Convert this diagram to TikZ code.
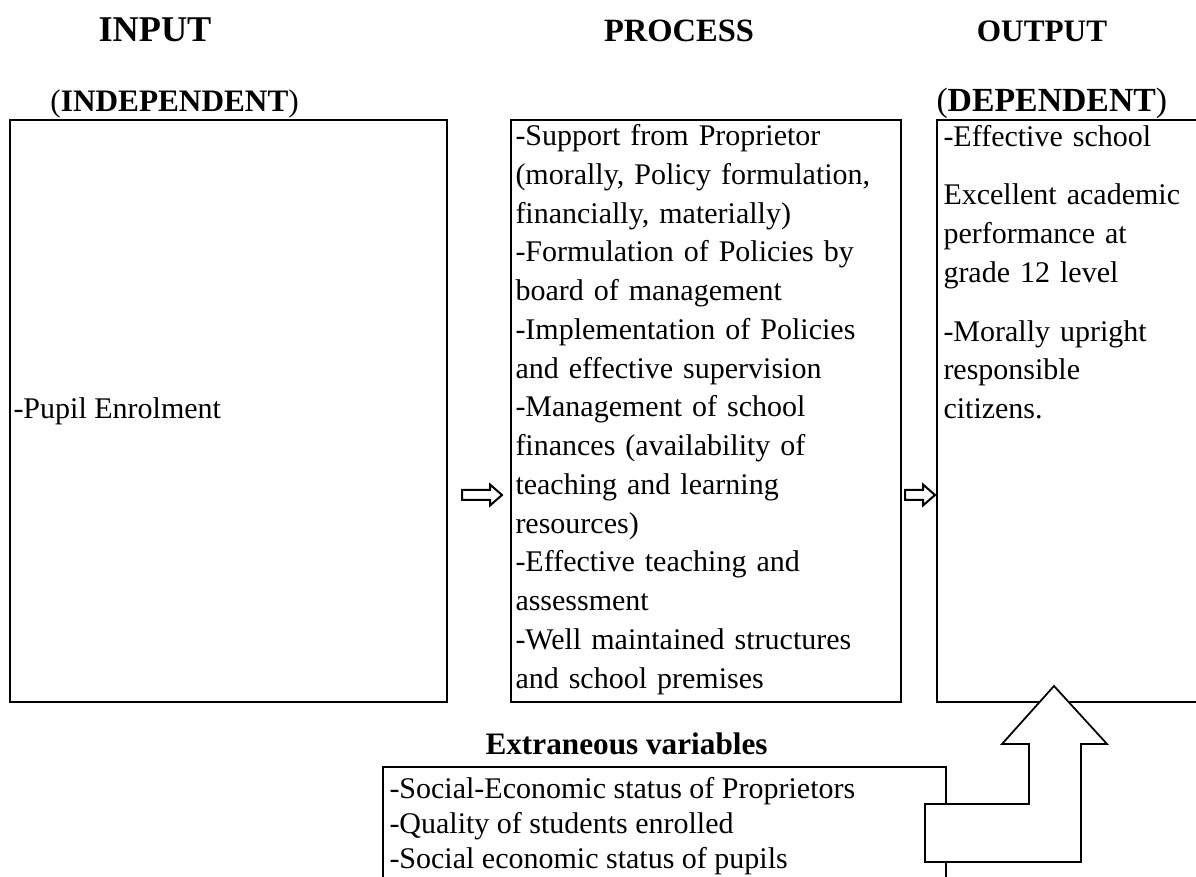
\documentclass[tikz,border=0pt]{standalone}
\usepackage{fontspec}
\setmainfont{Liberation Serif}
\newcommand{\fullline}[1]{\makebox[\hsize][s]{#1}}

\begin{document}
\begin{tikzpicture}[x=0.4pt,y=-0.4pt,framebox/.style={draw=black,line width=1pt},bodytext/.style={font=\fontsize{12}{15.5}\selectfont,inner sep=0pt,align=left},heading/.style={font=\fontsize{13}{15}\selectfont\bfseries,inner sep=0pt},hollowarrow/.style={draw=black,fill=white,line width=0.8pt,line join=miter},bigarrow/.style={draw=black,fill=white,line width=0.7pt}]
\useasboundingbox (0,0) rectangle (1196,877);
\clip (0,0) rectangle (1196,877);
% column headings
\node[heading,font=\fontsize{14.5}{17}\selectfont\bfseries,anchor=base] (inputhead) at (155,42) {INPUT};
\node[heading,anchor=base] (processhead) at (679,42) {PROCESS};
\node[heading,font=\fontsize{12.5}{15}\selectfont\bfseries,anchor=base] (outputhead) at (1042,42) {OUTPUT};
\node[heading,font=\fontsize{12.5}{15}\selectfont\bfseries,anchor=base west] (indephead) at (50,112) {{\mdseries(}INDEPENDENT{\mdseries)}};
\node[heading,font=\fontsize{13.5}{15}\selectfont\bfseries,anchor=base west] (dephead) at (936,112) {{\mdseries(}DEPENDENT{\mdseries)}};
% the three frames
\draw[framebox] (10,120) rectangle (447,702);
\draw[framebox] (511,120) rectangle (901,702);
\draw[framebox] (937,120) rectangle (1230,702);
\node[bodytext,anchor=west] (pupil) at (13,411) {-Pupil Enrolment};
\node[bodytext,text width=152pt,anchor=north west] (processtext) at (515,124) {\fullline{-Support from Proprietor}\\ \fullline{(morally, Policy formulation,}\\ financially, materially)\\ \fullline{-Formulation of Policies by}\\ board of management\\ \fullline{-Implementation of Policies}\\ and effective supervision\\ -Management of school\\ finances (availability of\\ teaching and learning\\ resources)\\ -Effective teaching and\\ assessment\\ \fullline{-Well maintained structures}\\ and school premises};
\node[bodytext,text width=99pt,anchor=north west] (outputtext) at (943,124.5) {-Effective school\\[8pt] \fullline{Excellent academic}\\ performance at\\ grade 12 level\\[8pt] -Morally upright\\ responsible\\ citizens.};
\foreach \ax/\len in {462/40,905/30} \draw[hollowarrow] (\ax,490) -- ++(\len-12,0) -- ++(0,-5.5) -- ++(12,10.5) -- ++(-12,10.5) -- ++(0,-5.5) -- ++(-\len+12,0) -- cycle;
% extraneous variables
\node[heading,font=\fontsize{12.5}{15}\selectfont\bfseries,anchor=base west] (extrahead) at (485,755) {Extraneous variables};
\draw[framebox] (383,767) rectangle (946,920);
\node[bodytext,font=\fontsize{12}{14}\selectfont,anchor=north west] (extratext) at (389,776.5) {-Social-Economic status of Proprietors\\ -Quality of students enrolled\\ -Social economic status of pupils};
\draw[bigarrow] (925,804) -- (1029,804) -- (1029,744) -- (1002,744) -- (1054,686) -- (1107,744) -- (1081,744) -- (1081,862) -- (925,862) -- cycle;
\end{tikzpicture}
\end{document}
